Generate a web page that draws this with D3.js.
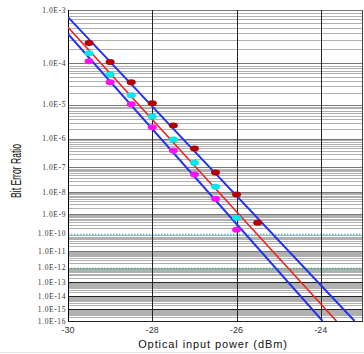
<!DOCTYPE html>
<html>
<head>
<meta charset="utf-8">
<script src="https://cdn.jsdelivr.net/npm/d3@7"></script>
<style>
  body { margin: 0; background: #fff; }
  svg { display: block; }
</style>
</head>
<body>
<div id="chart"></div>
<script>
// data
const powers = [-29.5, -29, -28.5, -28, -27.5, -27, -26.5, -26, -25.5];
const berRed = [2.6e-4, 1.07e-4, 3.75e-5, 1.1e-5, 2.6e-6, 4.8e-7, 6.4e-8, 7.9e-9, 3.7e-10];
const berCyan = [1.64e-4, 5.7e-5, 1.8e-5, 4.8e-6, 9.5e-7, 1.5e-7, 1.7e-8, 6.6e-10];
const berMagenta = [1.12e-4, 3.75e-5, 1.04e-5, 2.3e-6, 4.1e-7, 5.4e-8, 5.2e-9, 1.6e-10];

// fitted lines, end points [power, BER]
const fitUpper = [[-30, 7.65e-4], [-23.2, 1e-16]];
const fitMid = [[-30, 5.1e-4], [-23.63, 1e-16]];
const fitLower = [[-30, 3.86e-4], [-23.96, 1e-16]];

const xTicks = [-30, -28, -26, -24];
const yExps = [3, 4, 5, 6, 7, 8, 9, 10, 11, 12, 13, 14, 15, 16];
const yTickLabels = yExps.map(e => "1.0E-" + e);

const W = 364, H = 354;
const m = {left: 68, right: 363, top: 10, bottom: 321};

const svg = d3.select("#chart").append("svg")
  .attr("width", W).attr("height", H);

const x = d3.scaleLinear().domain([-30, -23]).range([m.left, m.right]);
// BER axis: linear in log10(-log10(BER))
const q = d3.scaleLinear().domain([Math.log10(3), Math.log10(16)]).range([m.top, m.bottom]);
const y = ber => q(Math.log10(-Math.log10(ber)));

// horizontal grid, minor lines first
const minor = [];
for (let e = 4; e <= 16; e++) {
  for (let k = 2; k <= 9; k++) minor.push(k * Math.pow(10, -e));
}
svg.append("g").selectAll("line").data(minor).join("line")
  .attr("x1", m.left).attr("x2", m.right)
  .attr("y1", d => Math.round(y(d)) + 0.5).attr("y2", d => Math.round(y(d)) + 0.5)
  .attr("stroke", "#b0b0b0").attr("stroke-width", 1);

svg.append("g").selectAll("line").data(yExps).join("line")
  .attr("x1", m.left).attr("x2", m.right)
  .attr("y1", d => Math.round(y(Math.pow(10, -d))) + 0.5)
  .attr("y2", d => Math.round(y(Math.pow(10, -d))) + 0.5)
  .attr("stroke", d => d === 10 ? "#4fbfd8" : d === 12 ? "#3fae7c" : d >= 13 ? "#222" : "#777")
  .attr("stroke-dasharray", d => (d === 10 || d === 12) ? "1.5,1.5" : null)
  .attr("stroke-width", d => (d === 10 || d === 12) ? 1.3 : 1);

// vertical grid
svg.append("g").selectAll("line").data(xTicks.slice(1)).join("line")
  .attr("x1", d => Math.round(x(d)) + 0.5).attr("x2", d => Math.round(x(d)) + 0.5)
  .attr("y1", m.top).attr("y2", m.bottom)
  .attr("stroke", "#222").attr("stroke-width", 1);

svg.append("line")
  .attr("x1", m.right - 0.5).attr("x2", m.right - 0.5).attr("y1", m.top).attr("y2", m.bottom)
  .attr("stroke", "#444");
svg.append("line")
  .attr("x1", m.left + 0.5).attr("x2", m.left + 0.5).attr("y1", m.top).attr("y2", m.bottom)
  .attr("stroke", "#000");

// y tick labels
svg.append("g").selectAll("text").data(yExps).join("text")
  .attr("x", 66)
  .attr("y", d => y(Math.pow(10, -d)) + 2.5)
  .attr("text-anchor", "end")
  .attr("font-family", "Liberation Serif, serif")
  .attr("font-size", 7.5)
  .attr("letter-spacing", 0.6)
  .attr("fill", "#333")
  .text((d, i) => yTickLabels[i]);

// x tick labels
svg.append("g").selectAll("text").data(xTicks).join("text")
  .attr("x", d => x(d))
  .attr("y", 333)
  .attr("text-anchor", "middle")
  .attr("font-family", "Liberation Sans, Arial, sans-serif")
  .attr("font-size", 9)
  .attr("fill", "#333")
  .text(d => d);

// axis titles
svg.append("text")
  .attr("x", 213).attr("y", 348)
  .attr("text-anchor", "middle")
  .attr("font-family", "Liberation Sans, Arial, sans-serif")
  .attr("font-size", 11)
  .attr("letter-spacing", 0.9)
  .attr("fill", "#111")
  .text("Optical input power (dBm)");

svg.append("text")
  .attr("transform", "translate(21,171) rotate(-90)")
  .attr("text-anchor", "middle")
  .attr("font-family", "Liberation Sans Narrow, Liberation Sans, sans-serif")
  .attr("font-size", 14)
  .attr("textLength", 54)
  .attr("lengthAdjust", "spacingAndGlyphs")
  .attr("fill", "#111")
  .text("Bit Error Ratio");

svg.append("line")
  .attr("x1", 0).attr("x2", W).attr("y1", 352.5).attr("y2", 352.5)
  .attr("stroke", "#e4e4e4");

// fit lines
svg.append("clipPath").attr("id", "plot").append("rect")
  .attr("x", m.left).attr("y", m.top - 2).attr("width", m.right - m.left).attr("height", m.bottom - m.top + 2);
const line = d3.line().x(d => x(d[0])).y(d => y(d[1]));
const fits = [[fitUpper, "#2233ee", 2], [fitMid, "#ee2222", 1.6], [fitLower, "#2233ee", 2]];
svg.append("g").attr("clip-path", "url(#plot)").selectAll("path").data(fits).join("path")
  .attr("d", d => line(d[0]))
  .attr("fill", "none")
  .attr("stroke", d => d[1])
  .attr("stroke-width", d => d[2]);

// measured points
const series = [[berRed, "#b40000"], [berCyan, "#00e8f0"], [berMagenta, "#ff10f0"]];
series.forEach(([vals, col]) => {
  svg.append("g").selectAll("ellipse").data(vals).join("ellipse")
    .attr("cx", (d, i) => x(powers[i]))
    .attr("cy", d => y(d))
    .attr("rx", 4.5).attr("ry", 3)
    .attr("fill", col);
});
</script>
</body>
</html>
